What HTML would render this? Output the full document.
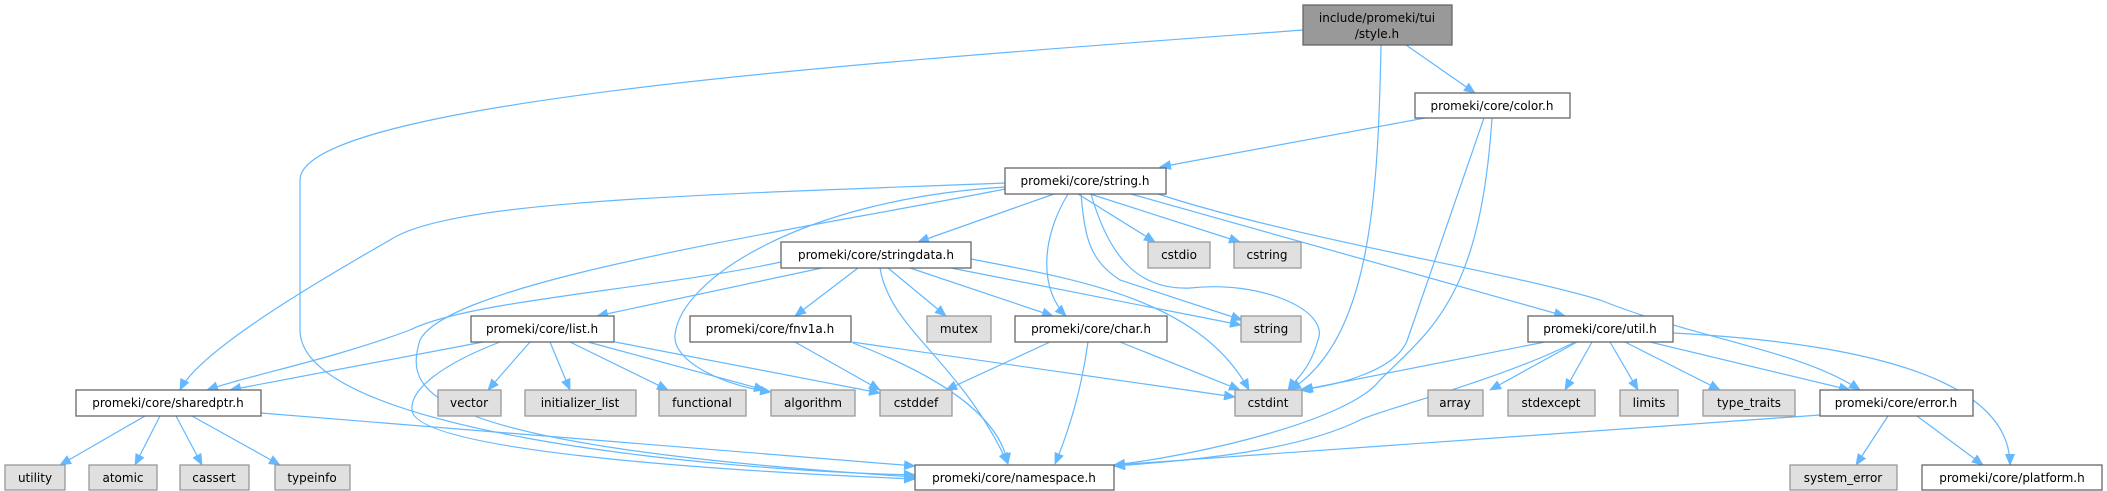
<!DOCTYPE html>
<html><head><meta charset="utf-8"><style>
html,body{margin:0;padding:0;background:#fff;}
svg{display:block;}
text{font-family:"DejaVu Sans","Liberation Sans",sans-serif;font-size:12px;fill:#000;text-anchor:middle;}
.n{fill:#fff;stroke:#666;stroke-width:1.3}
.g{fill:#e0e0e0;stroke:#999;stroke-width:1.3}
.r{fill:#999;stroke:#666;stroke-width:1.3}
path.e{fill:none;stroke:#63b8ff;stroke-width:1.2;marker-end:url(#a)}
</style></head><body>
<svg width="2107" height="491" viewBox="0 0 2107 491" xmlns="http://www.w3.org/2000/svg">
<defs><marker id="a" markerUnits="userSpaceOnUse" markerWidth="12" markerHeight="10" refX="11" refY="5" orient="auto"><path d="M0,0 L12,5 L0,10 z" fill="#63b8ff"/></marker></defs>
<g>
<path class="e" d="M1303,30 C900,60 300,100 300,180 L300,330 C300,430 700,470 915,475"/>
<path class="e" d="M1381,45 C1378,200 1370,340 1290,390"/>
<path class="e" d="M1406,45 L1475,93"/>
<path class="e" d="M1425,118 L1160,167"/>
<path class="e" d="M1484,118 L1407,341 C1395,370 1340,385 1300,390"/>
<path class="e" d="M1492,118 C1480,300 1430,330 1380,380 C1350,420 1200,455 1114,465"/>
<path class="e" d="M1005,183 C700,195 450,200 390,240 C320,280 200,350 180,390"/>
<path class="e" d="M1005,189 C800,230 450,280 420,340 C405,390 410,445 915,477"/>
<path class="e" d="M1005,187 C800,200 680,280 675,335 C672,360 720,385 771,392"/>
<path class="e" d="M1054,194 L918,242"/>
<path class="e" d="M1068,194 C1040,240 1040,290 1066,316"/>
<path class="e" d="M1078,194 L1155,242"/>
<path class="e" d="M1090,194 L1240,242"/>
<path class="e" d="M1081,194 C1085,240 1090,260 1120,280 L1242,320"/>
<path class="e" d="M1091,194 C1110,260 1140,290 1190,288 C1260,280 1330,310 1318,340 C1310,370 1295,380 1288,390"/>
<path class="e" d="M1131,194 L1565,316"/>
<path class="e" d="M1158,194 C1300,240 1500,270 1600,300 C1700,340 1800,350 1860,390"/>
<path class="e" d="M781,262 C650,290 470,300 410,330 C330,360 250,375 207,390"/>
<path class="e" d="M822,268 L597,316"/>
<path class="e" d="M858,268 L795,316"/>
<path class="e" d="M888,268 L946,316"/>
<path class="e" d="M910,268 L1053,316"/>
<path class="e" d="M951,268 L1241,325"/>
<path class="e" d="M971,259 C1080,280 1200,300 1249,390"/>
<path class="e" d="M880,268 C890,330 960,360 1008,464"/>
<path class="e" d="M483,342 L230,390"/>
<path class="e" d="M500,342 C440,365 410,390 412,410 C415,450 700,470 915,479"/>
<path class="e" d="M530,342 L488,390"/>
<path class="e" d="M550,342 L570,390"/>
<path class="e" d="M570,342 L668,390"/>
<path class="e" d="M588,342 L765,390"/>
<path class="e" d="M615,342 L880,393"/>
<path class="e" d="M795,342 L880,390"/>
<path class="e" d="M853,343 C950,380 1000,420 1008,464"/>
<path class="e" d="M852,342 L1235,397"/>
<path class="e" d="M1050,342 L946,390"/>
<path class="e" d="M1120,342 L1240,390"/>
<path class="e" d="M1088,342 C1080,400 1065,440 1055,464"/>
<path class="e" d="M145,416 L60,465"/>
<path class="e" d="M160,416 L135,465"/>
<path class="e" d="M176,416 L202,465"/>
<path class="e" d="M192,416 L280,465"/>
<path class="e" d="M261,413 L915,466"/>
<path class="e" d="M1545,342 L1302,390"/>
<path class="e" d="M1575,342 C1500,380 1380,410 1360,420 C1300,450 1200,460 1114,466"/>
<path class="e" d="M1577,342 L1490,390"/>
<path class="e" d="M1592,342 L1565,390"/>
<path class="e" d="M1610,342 L1638,390"/>
<path class="e" d="M1625,342 L1720,390"/>
<path class="e" d="M1650,342 L1850,390"/>
<path class="e" d="M1673,333 C1900,345 2010,390 2010,465"/>
<path class="e" d="M1820,415 L1114,465"/>
<path class="e" d="M1888,416 L1856,465"/>
<path class="e" d="M1917,416 L1983,465"/>
</g>
<g>
<rect class="r" x="1303" y="5" width="149" height="40"/><text x="1377" y="22">include/promeki/tui</text><text x="1377" y="38">/style.h</text>
<rect class="n" x="1415" y="93" width="155" height="25"/><text x="1492" y="110">promeki/core/color.h</text>
<rect class="n" x="1005" y="168" width="161" height="26"/><text x="1085" y="185">promeki/core/string.h</text>
<rect class="n" x="781" y="242" width="190" height="26"/><text x="876" y="259">promeki/core/stringdata.h</text>
<rect class="g" x="1148" y="242" width="62" height="26"/><text x="1179" y="259">cstdio</text>
<rect class="g" x="1234" y="242" width="67" height="26"/><text x="1267" y="259">cstring</text>
<rect class="n" x="471" y="316" width="143" height="26"/><text x="542" y="333">promeki/core/list.h</text>
<rect class="n" x="690" y="316" width="161" height="26"/><text x="770" y="333">promeki/core/fnv1a.h</text>
<rect class="g" x="927" y="316" width="64" height="26"/><text x="959" y="333">mutex</text>
<rect class="n" x="1015" y="316" width="152" height="26"/><text x="1091" y="333">promeki/core/char.h</text>
<rect class="g" x="1241" y="316" width="60" height="26"/><text x="1271" y="333">string</text>
<rect class="n" x="1528" y="316" width="145" height="26"/><text x="1600" y="333">promeki/core/util.h</text>
<rect class="n" x="76" y="390" width="185" height="26"/><text x="168" y="407">promeki/core/sharedptr.h</text>
<rect class="g" x="438" y="390" width="63" height="26"/><text x="469" y="407">vector</text>
<rect class="g" x="525" y="390" width="111" height="26"/><text x="580" y="407">initializer_list</text>
<rect class="g" x="659" y="390" width="87" height="26"/><text x="702" y="407">functional</text>
<rect class="g" x="771" y="390" width="84" height="26"/><text x="813" y="407">algorithm</text>
<rect class="g" x="880" y="390" width="72" height="26"/><text x="916" y="407">cstddef</text>
<rect class="g" x="1235" y="390" width="67" height="26"/><text x="1268" y="407">cstdint</text>
<rect class="g" x="1428" y="390" width="55" height="26"/><text x="1455" y="407">array</text>
<rect class="g" x="1508" y="390" width="87" height="26"/><text x="1551" y="407">stdexcept</text>
<rect class="g" x="1620" y="390" width="58" height="26"/><text x="1649" y="407">limits</text>
<rect class="g" x="1703" y="390" width="92" height="26"/><text x="1749" y="407">type_traits</text>
<rect class="n" x="1820" y="390" width="153" height="26"/><text x="1896" y="407">promeki/core/error.h</text>
<rect class="g" x="5" y="465" width="60" height="25"/><text x="35" y="482">utility</text>
<rect class="g" x="89" y="465" width="68" height="25"/><text x="123" y="482">atomic</text>
<rect class="g" x="180" y="465" width="69" height="25"/><text x="214" y="482">cassert</text>
<rect class="g" x="275" y="465" width="75" height="25"/><text x="312" y="482">typeinfo</text>
<rect class="n" x="915" y="465" width="199" height="25"/><text x="1014" y="482">promeki/core/namespace.h</text>
<rect class="g" x="1790" y="465" width="107" height="25"/><text x="1843" y="482">system_error</text>
<rect class="n" x="1922" y="465" width="180" height="25"/><text x="2012" y="482">promeki/core/platform.h</text>
</g>
</svg>
</body></html>
